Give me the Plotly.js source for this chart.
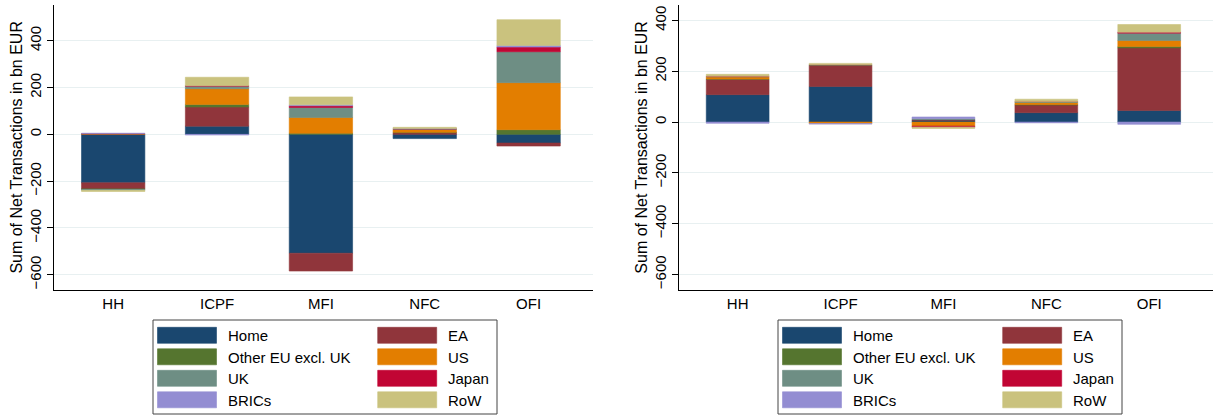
<!DOCTYPE html>
<html>
<head>
<meta charset="utf-8">
<script src="https://cdn.plot.ly/plotly-3.0.1.min.js"></script>
<style>
html,body{margin:0;padding:0;background:#fff;}
#chart{width:1213px;height:417px;}
</style>
</head>
<body>
<div id="chart"></div>
<script>
// ---- data ----
const categories = ["HH", "ICPF", "MFI", "NFC", "OFI"];
const seriesNames = ["Home", "EA", "Other EU excl. UK", "US", "UK", "Japan", "BRICs", "RoW"];
const seriesColors = ["#1a476f", "#90353b", "#55752f", "#e37e00", "#6e8e84", "#c10534", "#938dd2", "#cac27e"];

// Left panel values (bn EUR), per series across categories HH, ICPF, MFI, NFC, OFI
const leftHome    = [-207,  35, -508, -18, -37];
const leftEA      = [ -26,  82,  -76,   7, -13];
const leftOtherEU = [  -2,  11,    5,   2,  20];
const leftUS      = [   3,  67,   67,  12, 201];
const leftUK      = [  -4,  11,   43,   2, 132];
const leftJapan   = [   0,   2,    7,   1,  20];
const leftBRICs   = [   2,  -3,    4,   1,   7];
const leftRoW     = [  -5,  36,   34,   5, 110];

// Right panel values (bn EUR)
const rightHome    = [108, 140,   7, 37,  46];
const rightEA      = [ 61,  84,   3, 30, 246];
const rightOtherEU = [  1,   1,   0,  2,   5];
const rightUS      = [  8,  -6, -16,  8,  24];
const rightUK      = [  1,   1,   3,  4,  29];
const rightJapan   = [  1,   0,  -4,  0,   4];
const rightBRICs   = [ -5,  -2,   7, -3,  -9];
const rightRoW     = [  8,   5,  -5,  9,  30];

const yTickVals = [-600, -400, -200, 0, 200, 400];
const yTitle = "Sum of Net Transactions in bn EUR";

const leftSeries  = [leftHome, leftEA, leftOtherEU, leftUS, leftUK, leftJapan, leftBRICs, leftRoW];
const rightSeries = [rightHome, rightEA, rightOtherEU, rightUS, rightUK, rightJapan, rightBRICs, rightRoW];

// ---- layout geometry ----
const W = 1213, H = 417;
const FONT = "Liberation Sans, Arial, Helvetica, sans-serif";
const px = v => v / W;
const py = v => 1 - v / H;

const traces = [];
function addPanel(series, xa, ya) {
  series.forEach((vals, i) => {
    traces.push({
      type: "bar",
      x: categories,
      y: vals,
      name: seriesNames[i],
      xaxis: xa,
      yaxis: ya,
      marker: {color: seriesColors[i], line: {width: 0.6, color: seriesColors[i]}},
      showlegend: false,
      hoverinfo: "skip"
    });
  });
}
addPanel(leftSeries, "x", "y");
addPanel(rightSeries, "x2", "y2");

const yDom = [py(290), py(4.7)];

function xAxis(domain) {
  return {
    domain: domain,
    range: [-0.57, 4.62],
    showline: true, linecolor: "#000", linewidth: 1.2,
    ticks: "", showgrid: false, zeroline: false,
    tickfont: {family: FONT, size: 15, color: "#000"},
    fixedrange: true
  };
}
function yAxis(anchor, range) {
  return {
    domain: yDom,
    anchor: anchor,
    range: range,
    tickvals: yTickVals,
    tickangle: -90,
    ticks: "outside", ticklen: 6, tickwidth: 1, tickcolor: "#000",
    showline: true, linecolor: "#000", linewidth: 1.2,
    showgrid: true, gridcolor: "#e8f0f1", gridwidth: 1,
    zeroline: false,
    tickfont: {family: FONT, size: 15, color: "#000"},
    title: {text: yTitle, font: {family: FONT, size: 16, color: "#000"}, standoff: 0},
    fixedrange: true
  };
}

// ---- custom legend (shapes + annotations) ----
const shapes = [];
const annotations = [];
function addLegend(offsetX) {
  shapes.push({
    type: "rect", xref: "paper", yref: "paper",
    x0: px(153 + offsetX), x1: px(497 + offsetX), y0: py(414), y1: py(320),
    line: {color: "#444", width: 1}, fillcolor: "rgba(0,0,0,0)"
  });
  const rowY = [335.3, 356.8, 378.3, 399.8];
  const colSwX = [157.5, 377.7];
  const colTxX = [226, 446];
  seriesNames.forEach((name, i) => {
    const r = Math.floor(i / 2), c = i % 2;
    shapes.push({
      type: "rect", xref: "paper", yref: "paper",
      x0: px(colSwX[c] + offsetX), x1: px(colSwX[c] + 59 + offsetX),
      y0: py(rowY[r] + 8), y1: py(rowY[r] - 8),
      line: {width: 0.6, color: seriesColors[i]}, fillcolor: seriesColors[i]
    });
    annotations.push({
      xref: "paper", yref: "paper",
      x: px(colTxX[c] + offsetX), y: py(rowY[r] + 0.5),
      xanchor: "left", yanchor: "middle",
      text: name, showarrow: false,
      font: {family: FONT, size: 15, color: "#000"}
    });
  });
}
addLegend(0);
addLegend(625);

const layout = {
  width: W, height: H,
  margin: {l: 0, r: 0, t: 0, b: 0},
  paper_bgcolor: "#fff", plot_bgcolor: "#fff",
  barmode: "relative",
  bargap: 0.39,
  showlegend: false,
  xaxis: xAxis([px(54), px(593)]),
  yaxis: yAxis("x", [-665, 554]),
  xaxis2: xAxis([px(679), 1]),
  yaxis2: yAxis("x2", [-661, 462]),
  shapes: shapes,
  annotations: annotations,
  font: {family: FONT, size: 15, color: "#000"}
};
layout.xaxis.anchor = "y";
layout.xaxis2.anchor = "y2";

Plotly.newPlot("chart", traces, layout, {staticPlot: true, displayModeBar: false});
</script>
</body>
</html>
